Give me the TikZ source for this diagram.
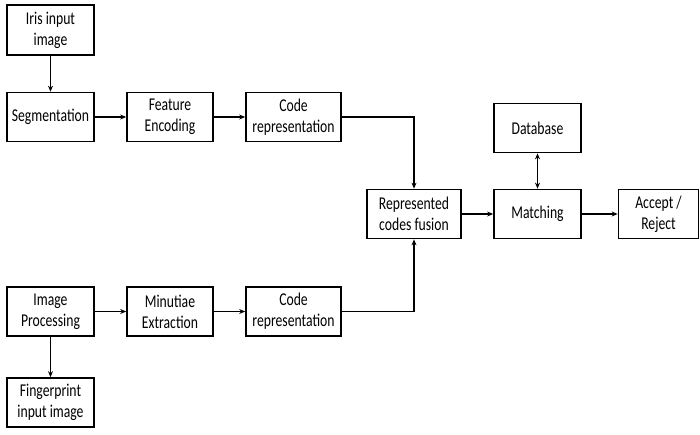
\documentclass[tikz,border=0pt]{standalone}
\usepackage{fontspec}
\setmainfont[FakeStretch=0.76]{Carlito}
\usetikzlibrary{arrows.meta}

\begin{document}
\begin{tikzpicture}[x=1pt,y=-1pt,
  block/.style={draw, line width=1.7pt, align=center, inner sep=0pt,
    minimum width=87pt, minimum height=49pt,
    font=\fontsize{18}{21}\selectfont},
  flow/.style={line width=1.7pt, -{Stealth[length=6pt,width=5pt]}}]
\useasboundingbox (0,0) rectangle (700,434);

% iris branch
\node[block] (iris) at (50.5,30) [minimum height=50pt] {Iris input\\image};
\node[block] (seg) at (50.5,117) {Segmentation};
\node[block] (feat) at (170,117) [minimum width=86pt] {Feature\\Encoding};
\node[block] (codeA) at (293.5,117) [minimum width=95pt] {Code\\representation};

% fusion and matching
\node[block] (fusion) at (414,214) [minimum width=94pt] {Represented\\codes fusion};
\node[block] (match) at (537.5,214) {Matching};
\node[block] (db) at (537.5,128) {Database};
\node[block] (accept) at (658.5,214) [minimum width=80pt] {Accept /\\Reject};

% fingerprint branch
\node[block] (improc) at (50.5,311.5) {Image\\Processing};
\node[block] (minut) at (170,311.5) [minimum width=86pt] {Minutiae\\Extraction};
\node[block] (codeB) at (293.5,311.5) [minimum width=95pt] {Code\\representation};
\node[block] (finger) at (50.5,402.5) {Fingerprint\\input image};

% connectors
\draw[flow] (iris) -- (seg);
\draw[flow] (seg) -- (feat);
\draw[flow] (feat) -- (codeA);
\draw[flow] (codeA.east) -| (fusion.north);
\draw[flow] (improc) -- (minut);
\draw[flow] (minut) -- (codeB);
\draw[flow] (codeB.east) -| (fusion.south);
\draw[flow] (improc) -- (finger);
\draw[flow] (fusion) -- (match);
\draw[flow] (match) -- (accept);
\draw[flow, {Stealth[length=6pt,width=5pt]}-{Stealth[length=6pt,width=5pt]}] (match) -- (db);

\end{tikzpicture}
\end{document}
